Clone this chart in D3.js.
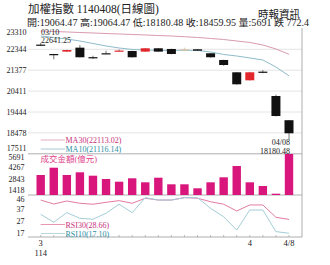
<!DOCTYPE html>
<html>
<head>
<meta charset="utf-8">
<script src="https://cdn.jsdelivr.net/npm/d3@7"></script>
<style>
  body { margin: 0; background: #fff; }
  svg text { font-family: "Liberation Serif", "Noto Sans CJK TC", serif; }
</style>
</head>
<body>
<svg id="chart" width="330" height="265"></svg>
<script>
// trading days 114/03/10 - 114/04/08
var dates = ['3/10','3/11','3/12','3/13','3/14','3/17','3/18','3/19','3/20','3/21',
             '3/24','3/25','3/26','3/27','3/28','3/31','4/1','4/2','4/7','4/8'];
var open  = [22560,22125,22235,22420,21980,22160,22250,22265,22235,22390,
             22358,22340,22344,22160,21850,21280,20910,21310,20184,19064.47];
var high  = [22641.25,22130,22320,22540,22050,22280,22330,22280,22400,22400,
             22370,22420,22350,22170,21860,21290,21300,21385,20244,19064.47];
var low   = [22500,21880,22230,21970,21895,22140,22240,21960,22230,22220,
             22110,22250,22270,21960,21580,20710,20900,21235,19232,18180.48];
var close = [22530,22095,22310,21975,21970,22150,22285,21975,22390,22235,
             22127,22345,22280,21975,21618,20725,21280,21300,19259,18459.95];
var ma30  = [23190,23165,23146,23120,23098,23074,23053,23028,23006,22980,
             22958,22925,22890,22845,22796,22728,22660,22543,22358,22113.02];
var ma10  = [22960,22890,22820,22728,22612,22497,22404,22335,22312,22290,
             22289,22298,22290,22219,22104,22034,21942,21849,21525,21116.14];
var volume = [3300,4131,3300,3607,3221,2845,2538,2925,2469,2993,
              2242,2242,1787,2469,3038,4324,2469,2048,1172,5691];
var rsi30 = [44.8,41.5,44.0,42.1,41.3,42.9,44.3,42.1,46.3,44.8,
             44.8,46.8,46.3,43.4,41.3,35.7,40.7,40.7,30.4,28.66];
var rsi10 = [32.9,26.3,34.3,29.6,28.8,33.8,41.3,34.3,46.8,44.8,
             44.8,46.8,46.8,37.9,30.9,19.8,36.5,36.5,18.5,17.10];
var priceTicks = [23310,22344,21377,20411,19444,18478,17511];
var volTicks = [5691,4267,2843,1418];
var rsiTicks = [46,37,27,17];
var xLabels = [{d: '3/10', t: '3'}, {d: '4/1', t: '4'}, {d: '4/8', t: '4/8'}];

var svg = d3.select('#chart');
var left = 28, right = 302;
var red = '#e3262c', dark = '#111', mag = '#d8167c';

var x = d3.scalePoint().domain(dates).range([40.7, 289]);
var yP = d3.scaleLinear().domain([17511, 23310]).range([153.8, 28.4]);
var yV = d3.scaleLinear().domain([0, 5691]).range([204, 154]);
var yR = d3.scaleLinear().domain([14, 49]).range([237, 195]);

// header
svg.append('text').attr('x', 28).attr('y', 12.5)
    .style('font-size', '11.5px').attr('fill', '#222')
    .text('加權指數 1140408(日線圖)');
svg.append('text').attr('x', 300).attr('y', 17.5).attr('text-anchor', 'end')
    .style('font-size', '10.5px').attr('fill', '#222')
    .text('時報資訊');
svg.append('text').attr('x', 27).attr('y', 26.2)
    .attr('textLength', 282).attr('lengthAdjust', 'spacingAndGlyphs')
    .style('font-size', '9.5px').attr('fill', '#222')
    .text('開:19064.47 高:19064.47 低:18180.48 收:18459.95 量:5691 跌 772.4');

// grid lines in price panel
svg.selectAll('line.pgrid')
    .data(priceTicks.slice(1, -1))
    .enter().append('line')
    .attr('class', 'pgrid')
    .attr('x1', left).attr('x2', right)
    .attr('y1', function(d) { return yP(d); })
    .attr('y2', function(d) { return yP(d); })
    .style('stroke', '#e4e4e4').style('stroke-width', 1);

// panel borders
var seps = [yP(17511), 195, 237];
svg.selectAll('line.sep').data(seps).enter().append('line')
    .attr('class', 'sep')
    .attr('x1', left).attr('x2', right)
    .attr('y1', function(d) { return d; }).attr('y2', function(d) { return d; })
    .style('stroke', '#9a9a9a').style('stroke-width', 0.8);
svg.append('line').attr('x1', right).attr('x2', right).attr('y1', 28).attr('y2', 237)
    .style('stroke', '#9a9a9a').style('stroke-width', 0.8);

// small ticks on bottom axis
svg.selectAll('line.xt').data(dates).enter().append('line')
    .attr('class', 'xt')
    .attr('x1', function(d) { return x(d); }).attr('x2', function(d) { return x(d); })
    .attr('y1', 237).attr('y2', 235)
    .style('stroke', '#aaa').style('stroke-width', 0.8);

// axis labels
function tickLabels(ticks, scale, xEnd, shiftTop, shiftBottom) {
    svg.append('g').selectAll('text').data(ticks).enter().append('text')
        .attr('x', xEnd)
        .attr('y', function(d, i) {
            var y = scale(d) + 3;
            if (i == 0) y += shiftTop;
            if (i == ticks.length - 1) y += shiftBottom;
            return y;
        })
        .attr('text-anchor', 'end')
        .style('font-size', '8px').attr('fill', '#222')
        .text(function(d) { return d; });
}
tickLabels(priceTicks, yP, 26.5, 4, -5.5);
tickLabels(volTicks, yV, 24.5, 3, -1.5);
tickLabels(rsiTicks, yR, 24.5, 0.8, 0);

// moving averages
var idx = d3.range(dates.length);
function drawLine(vals, scale, color) {
    var line = d3.line()
        .x(function(i) { return x(dates[i]); })
        .y(function(i) { return scale(vals[i]); });
    svg.append('path').datum(idx).attr('d', line)
        .style('fill', 'none').style('stroke', color).style('stroke-width', 1);
}
drawLine(ma30, yP, '#d99ab2');
drawLine(ma10, yP, '#8fbccb');

// candles
function candleColor(i) {
    if (i == 11) return '#d8c4a6';
    return close[i] > open[i] ? red : dark;
}
var candles = svg.append('g').selectAll('g').data(idx).enter().append('g');
candles.append('line')
    .attr('x1', function(i) { return x(dates[i]); })
    .attr('x2', function(i) { return x(dates[i]); })
    .attr('y1', function(i) { return yP(high[i]); })
    .attr('y2', function(i) { return yP(low[i]); })
    .style('stroke', function(i) { return i == 11 ? '#d8c4a6' : '#555'; })
    .style('stroke-width', 0.8);
candles.append('rect')
    .attr('x', function(i) { return x(dates[i]) - 4.5; })
    .attr('width', 9)
    .attr('y', function(i) { return yP(Math.max(open[i], close[i])); })
    .attr('height', function(i) {
        return Math.max(1.2, Math.abs(yP(open[i]) - yP(close[i])));
    })
    .style('fill', candleColor);

// annotations
svg.append('text').attr('x', 41).attr('y', 35)
    .style('font-size', '8px').attr('fill', '#222').text('03/10');
svg.append('text').attr('x', 41).attr('y', 43.4)
    .style('font-size', '8px').attr('fill', '#222').text(d3.format('.2f')(high[0]));
svg.append('text').attr('x', 290).attr('y', 145).attr('text-anchor', 'end')
    .style('font-size', '8px').attr('fill', '#222').text('04/08');
svg.append('text').attr('x', 290).attr('y', 153.8).attr('text-anchor', 'end')
    .style('font-size', '8px').attr('fill', '#222').text(d3.format('.2f')(low[19]));

// legends
function legend(y, color, lineColor, label) {
    svg.append('line').attr('x1', 40.7).attr('x2', 65).attr('y1', y).attr('y2', y)
        .style('stroke', lineColor).style('stroke-width', 0.8);
    svg.append('text').attr('x', 65.5).attr('y', y + 3)
        .style('font-size', '8px').attr('fill', color).text(label);
}
legend(140, '#c8307a', '#d99ab2', 'MA30(' + d3.format('.2f')(ma30[19]) + ')');
legend(149, '#2e90a4', '#8fbccb', 'MA10(' + d3.format('.2f')(ma10[19]) + ')');

// volume bars
svg.append('g').selectAll('rect').data(idx).enter().append('rect')
    .attr('x', function(i) { return x(dates[i]) - 4.2; })
    .attr('width', 8.4)
    .attr('y', function(i) { return yV(volume[i]); })
    .attr('height', function(i) { return 195 - yV(volume[i]); })
    .style('fill', mag);
svg.append('text').attr('x', 40.5).attr('y', 161.5)
    .style('font-size', '8.5px').attr('fill', '#e0408a').text('成交金額(億元)');

// RSI
drawLine(rsi30, yR, '#e27ba3');
drawLine(rsi10, yR, '#a3cdd8');
legend(224.5, '#c8307a', '#e27ba3', 'RSI30(' + d3.format('.2f')(rsi30[19]) + ')');
legend(233.5, '#2e90a4', '#a3cdd8', 'RSI10(' + d3.format('.2f')(rsi10[19]) + ')');

// bottom date labels
svg.append('g').selectAll('text').data(xLabels).enter().append('text')
    .attr('x', function(d) { return x(d.d); }).attr('y', 245.5)
    .attr('text-anchor', 'middle')
    .style('font-size', '8.5px').attr('fill', '#222')
    .text(function(d) { return d.t; });
svg.append('text').attr('x', x('3/10')).attr('y', 256).attr('text-anchor', 'middle')
    .style('font-size', '8.5px').attr('fill', '#222').text('114');
</script>
</body>
</html>
